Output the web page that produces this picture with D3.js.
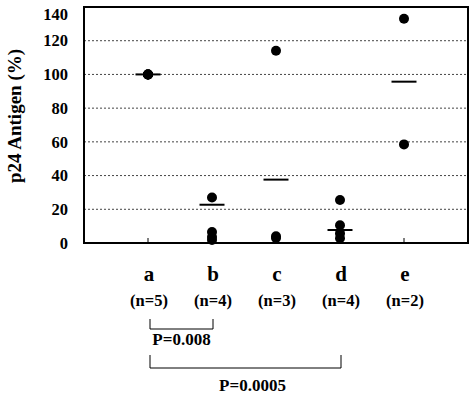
<!DOCTYPE html>
<html><head><meta charset="utf-8">
<script src="https://cdn.jsdelivr.net/npm/d3@7"></script>
<style>body{margin:0;background:#fff}svg{display:block}text{font-family:"Liberation Serif","Times New Roman",serif;font-weight:bold;fill:#000}</style>
</head><body>
<script>
const categories = ["a","b","c","d","e"];
const nLabels = ["(n=5)","(n=4)","(n=3)","(n=4)","(n=2)"];
const values = [[100,100,100,100,100],[27,6.5,3.5,1.8],[114,4,3],[25.5,10.5,5.7,2.8],[133,58.5]];
const means = [100,22.7,37.6,7.7,95.7];
const yTicks = [0,20,40,60,80,100,120,140];
const gridTicks = [20,40,60,80,100,120];
const comparisons = [{from:"a",to:"b",label:"P=0.008"},{from:"a",to:"d",label:"P=0.0005"}];

const W=474,H=397, L=84,R=468,T=7,B=243;
const svg=d3.select("body").append("svg").attr("width",W).attr("height",H);
const x=d3.scalePoint().domain(categories).range([L,R]).padding(1);
const y=d3.scaleLinear().domain([0,140]).range([B,T]);

svg.append("g").selectAll("line").data(gridTicks).join("line")
 .attr("x1",L).attr("x2",R).attr("y1",d=>y(d)).attr("y2",d=>y(d))
 .attr("stroke","#444").attr("stroke-width",1).attr("stroke-dasharray","2,2");

const ya=svg.append("g").attr("transform",`translate(${L},0)`)
 .call(d3.axisLeft(y).tickValues(yTicks).tickSize(0).tickPadding(16).tickFormat(d3.format("d")));
ya.select(".domain").remove();
ya.selectAll("text").style("font-size","16.5px").style("font-family","Liberation Serif").style("font-weight","bold")
 .attr("dy",d=>d===140?"0.75em":"0.32em");

svg.append("g").selectAll("line").data(categories).join("line")
 .attr("x1",d=>x(d)).attr("x2",d=>x(d)).attr("y1",B).attr("y2",B-5).attr("stroke","#000").attr("stroke-width",1);

svg.append("rect").attr("x",L).attr("y",T).attr("width",R-L).attr("height",B-T)
 .attr("fill","none").attr("stroke","#000").attr("stroke-width",2);

categories.forEach((c,i)=>{
  svg.append("g").selectAll("circle").data(values[i]).join("circle")
   .attr("cx",x(c)).attr("cy",d=>y(d)).attr("r",5).attr("fill","#000");
  svg.append("line").attr("x1",x(c)-12.5).attr("x2",x(c)+12.5).attr("y1",y(means[i])).attr("y2",y(means[i]))
   .attr("stroke","#000").attr("stroke-width",2);
  svg.append("text").attr("x",x(c)+1).attr("y",281).attr("text-anchor","middle").style("font-size","21px").text(c);
  svg.append("text").attr("x",x(c)+1).attr("y",306).attr("text-anchor","middle").style("font-size","16.5px").text(nLabels[i]);
});

svg.append("text").attr("transform","translate(21,116) rotate(-90)").attr("text-anchor","middle")
 .style("font-size","19px").text("p24 Antigen (%)");

const brY=[[319,329,345],[355,368,391]];
comparisons.forEach((cmp,i)=>{
  const x1=x(cmp.from)+2,x2=x(cmp.to)+1,[t,b,ty]=brY[i];
  svg.append("path").attr("d",`M${x1},${t}V${b}H${x2}V${t}`).attr("fill","none").attr("stroke","#000").attr("stroke-width",1);
  svg.append("text").attr("x",(x1+x2)/2+(i?7:0)).attr("y",ty).attr("text-anchor","middle").style("font-size","17px").text(cmp.label);
});
</script>
</body></html>
